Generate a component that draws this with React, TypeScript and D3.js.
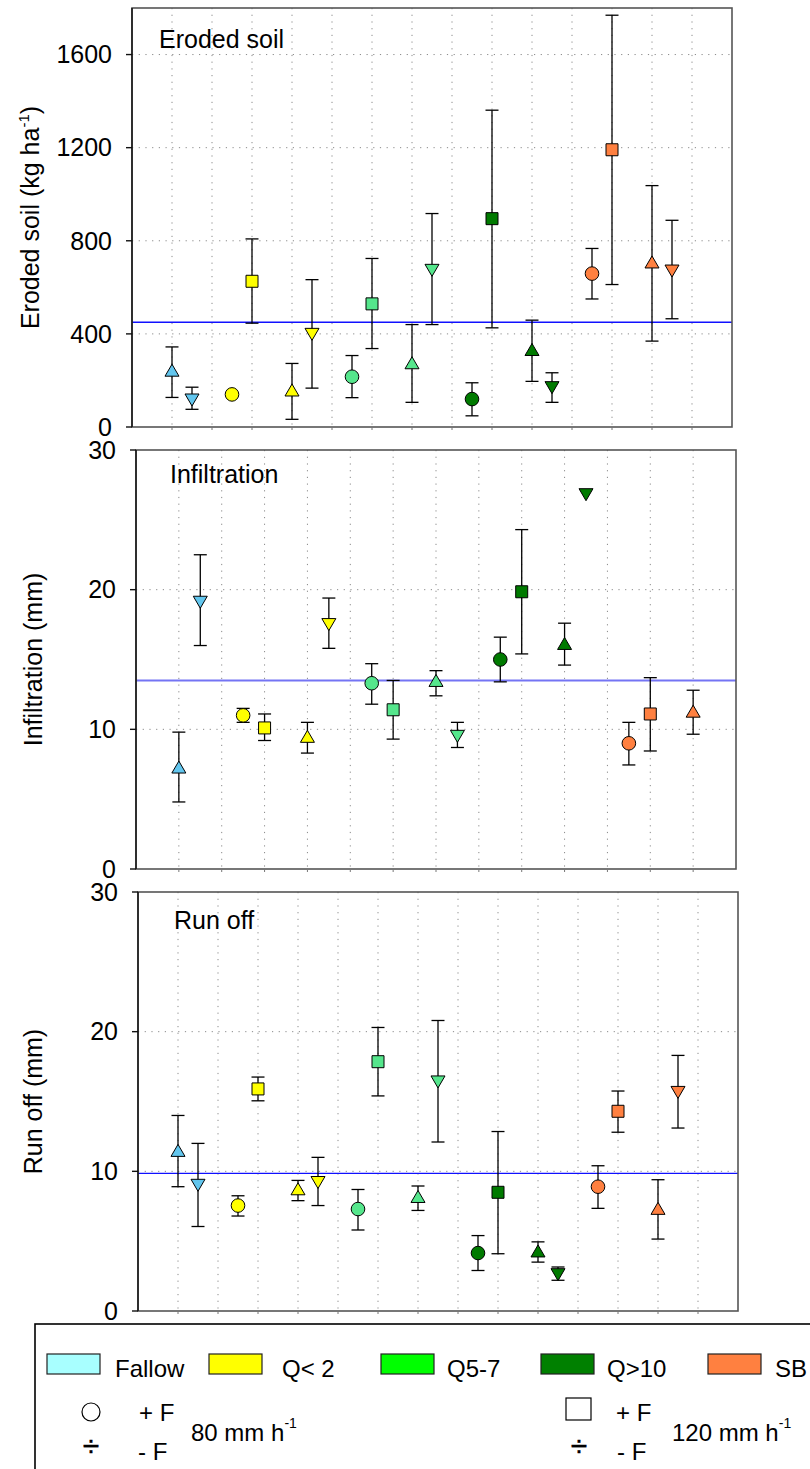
import React, { useEffect } from "react";
import * as d3 from "d3";

// ---------- data ----------
const xPos = [1, 1.5, 2.5, 3, 4, 4.5, 5.5, 6, 7, 7.5, 8.5, 9, 10, 10.5, 11.5, 12, 13, 13.5];
const treatment = ["Fallow", "Fallow", "Q<2", "Q<2", "Q<2", "Q<2", "Q5-7", "Q5-7", "Q5-7", "Q5-7", "Q>10", "Q>10", "Q>10", "Q>10", "SB", "SB", "SB", "SB"];
const symbolType = ["up", "down", "circle", "square", "up", "down", "circle", "square", "up", "down", "circle", "square", "up", "down", "circle", "square", "up", "down"];

const erodedMean = [244, 116, 140, 626, 159, 398, 216, 529, 276, 673, 120, 895, 333, 169, 659, 1191, 709, 670];
const erodedHigh = [344, 171, null, 808, 273, 633, 307, 724, 440, 917, 190, 1361, 459, 233, 767, 1769, 1037, 888];
const erodedLow = [127, 76, null, 446, 33, 167, 126, 337, 106, 440, 48, 426, 196, 106, 550, 612, 369, 465];
const erodedAvg = 450;

const infMean = [7.3, 19.1, 11.0, 10.1, 9.5, 17.5, 13.3, 11.4, 13.5, 9.5, 15.0, 19.85, 16.15, 26.8, 9.0, 11.1, 11.3, null];
const infHigh = [9.8, 22.5, 11.5, 11.1, 10.5, 19.4, 14.7, 13.5, 14.2, 10.5, 16.6, 24.3, 17.6, null, 10.5, 13.7, 12.8, null];
const infLow = [4.8, 16.0, 10.5, 9.2, 8.3, 15.8, 11.8, 9.3, 12.4, 8.7, 13.4, 15.4, 14.6, null, 7.45, 8.45, 9.65, null];
const infAvg = 13.5;

const runMean = [11.5, 9.0, 7.55, 15.9, 8.75, 9.2, 7.3, 17.85, 8.2, 16.4, 4.15, 8.5, 4.3, 2.6, 8.9, 14.3, 7.35, 15.65];
const runHigh = [14.0, 12.0, 8.25, 16.75, 9.35, 11.0, 8.7, 20.3, 8.95, 20.8, 5.4, 12.85, 4.95, 3.15, 10.4, 15.75, 9.4, 18.3];
const runLow = [8.9, 6.05, 6.8, 15.05, 7.9, 7.55, 5.8, 15.4, 7.2, 12.1, 2.9, 4.1, 3.5, 2.2, 7.35, 12.8, 5.15, 13.1];
const runAvg = 9.85;

const erodedTicks = [0, 400, 800, 1200, 1600];
const mmTicks = [0, 10, 20, 30];

const legendLabels = ["Fallow", "Q< 2", "Q5-7", "Q>10", "SB"];

// ---------- styles ----------
const FONT = "'Liberation Sans', Arial, Helvetica, sans-serif";
const markerFill: Record<string, string> = {
  Fallow: "#62c6ee",
  "Q<2": "#ffff00",
  "Q5-7": "#55e68c",
  "Q>10": "#007a00",
  SB: "#ff8040",
};
const legendFill = ["#a8ffff", "#ffff00", "#00ff00", "#008000", "#ff8040"];
const legendX = [47, 209, 381, 541, 708];
const legendTextX = [115, 282, 447, 607, 775];

type PanelCfg = {
  left: number; top: number; right: number; bottom: number;
  xMax: number; yMax: number; ticks: number[];
  mean: (number | null)[]; high: (number | null)[]; low: (number | null)[];
  avg: number; avgColor: string; avgWidth: number;
  title: string; titleX: number; titleY: number;
  yTitle: React.ReactNode; yTitleX: number;
};

function markerPath(t: string, x: number, y: number) {
  if (t === "up") return `M${x - 7},${y + 6}L${x + 7},${y + 6}L${x},${y - 6}Z`;
  if (t === "down") return `M${x - 7},${y - 6}L${x + 7},${y - 6}L${x},${y + 6}Z`;
  if (t === "square") return `M${x - 6},${y - 6}H${x + 6}V${y + 6}H${x - 6}Z`;
  const r = 6.8;
  return `M${x - r},${y}A${r},${r} 0 1,0 ${x + r},${y}A${r},${r} 0 1,0 ${x - r},${y}Z`;
}

function Panel({ c }: { c: PanelCfg }) {
  const x = d3.scaleLinear().domain([0, c.xMax]).range([c.left, c.right]);
  const y = d3.scaleLinear().domain([0, c.yMax]).range([c.bottom, c.top]);
  const vGrid = d3.range(1, c.xMax);
  const hGrid = c.ticks.filter((t) => t > 0 && y(t) > c.top + 2);
  const cy = (c.top + c.bottom) / 2;
  return (
    <g>
      {vGrid.map((g) => (
        <line key={"v" + g} x1={x(g)} x2={x(g)} y1={c.top} y2={c.bottom}
          stroke="#8a8a8a" strokeWidth={1} strokeDasharray="1.2 5.5" />
      ))}
      {hGrid.map((g) => (
        <line key={"h" + g} x1={c.left} x2={c.right} y1={y(g)} y2={y(g)}
          stroke="#8a8a8a" strokeWidth={1} strokeDasharray="1.2 5.5" />
      ))}
      <line x1={c.left} x2={c.right} y1={y(c.avg)} y2={y(c.avg)} stroke={c.avgColor} strokeWidth={c.avgWidth} />
      <rect x={c.left} y={c.top} width={c.right - c.left} height={c.bottom - c.top}
        fill="none" stroke="#555" strokeWidth={1.6} />
      <line x1={c.left} x2={c.left} y1={c.top} y2={c.bottom} stroke="#111" strokeWidth={1.4} />
      {vGrid.map((g) => (
        <line key={"xt" + g} x1={x(g)} x2={x(g)} y1={c.bottom} y2={c.bottom + 3} stroke="#777" strokeWidth={1} />
      ))}
      {c.ticks.map((t) => (
        <g key={"yt" + t}>
          <line x1={c.left - 6} x2={c.left} y1={y(t)} y2={y(t)} stroke="#111" strokeWidth={1.4} />
          <text x={c.left - 20} y={y(t)} dy="0.35em" textAnchor="end" fontSize={25} fontFamily={FONT} fill="#000">{t}</text>
        </g>
      ))}
      {c.mean.map((m, i) => {
        const hi = c.high[i];
        const lo = c.low[i];
        if (m == null || hi == null || lo == null) return null;
        const px = x(xPos[i]);
        return (
          <g key={"e" + i} stroke="#000" strokeWidth={1.3}>
            <line x1={px} x2={px} y1={y(hi)} y2={y(lo)} />
            <line x1={px - 6.5} x2={px + 6.5} y1={y(hi)} y2={y(hi)} />
            <line x1={px - 6.5} x2={px + 6.5} y1={y(lo)} y2={y(lo)} />
          </g>
        );
      })}
      {c.mean.map((m, i) => {
        if (m == null) return null;
        return (
          <path key={"m" + i} d={markerPath(symbolType[i], x(xPos[i]), y(m))}
            fill={markerFill[treatment[i]]} stroke="#000" strokeWidth={1} />
        );
      })}
      <text x={c.titleX} y={c.titleY} fontSize={25} fontFamily={FONT} fill="#000">{c.title}</text>
      <text transform={`translate(${c.yTitleX},${cy}) rotate(-90)`} textAnchor="middle" fontSize={25} fontFamily={FONT} fill="#000">
        {c.yTitle}
      </text>
    </g>
  );
}

export default function App() {
  useEffect(() => {
    document.body.style.margin = "0";
  }, []);

  const panels: PanelCfg[] = [
    {
      left: 132, top: 8, right: 732, bottom: 427, xMax: 15, yMax: 1800, ticks: erodedTicks,
      mean: erodedMean, high: erodedHigh, low: erodedLow, avg: erodedAvg, avgColor: "#1010ff", avgWidth: 1.3,
      title: "Eroded soil", titleX: 159, titleY: 48,
      yTitle: (<>Eroded soil (kg ha<tspan fontSize={15} dy={-10}>-1</tspan><tspan dy={10}>)</tspan></>),
      yTitleX: 39,
    },
    {
      left: 136, top: 450, right: 736, bottom: 869, xMax: 14, yMax: 30, ticks: mmTicks,
      mean: infMean, high: infHigh, low: infLow, avg: infAvg, avgColor: "#7474f4", avgWidth: 2,
      title: "Infiltration", titleX: 170, titleY: 483,
      yTitle: "Infiltration (mm)", yTitleX: 41.5,
    },
    {
      left: 138, top: 892, right: 738, bottom: 1311, xMax: 15, yMax: 30, ticks: mmTicks,
      mean: runMean, high: runHigh, low: runLow, avg: runAvg, avgColor: "#1010ff", avgWidth: 1.3,
      title: "Run off", titleX: 174, titleY: 929,
      yTitle: "Run off  (mm)", yTitleX: 41.5,
    },
  ];

  return (
    <svg width={810} height={1469} style={{ position: "absolute", left: 0, top: 0, background: "#fff" }}
      xmlns="http://www.w3.org/2000/svg">
      <rect x={0} y={0} width={810} height={1469} fill="#fff" />
      {panels.map((p, i) => <Panel key={i} c={p} />)}

      <rect x={35} y={1324} width={800} height={200} fill="none" stroke="#000" strokeWidth={1.6} />
      {legendLabels.map((l, i) => (
        <g key={l}>
          <rect x={legendX[i]} y={1354} width={53} height={20} fill={legendFill[i]} stroke="#222" strokeWidth={1.2} />
          <text x={legendTextX[i]} y={1377} fontSize={24} fontFamily={FONT} fill="#000">{l}</text>
        </g>
      ))}
      <circle cx={91} cy={1412} r={9} fill="#fff" stroke="#000" strokeWidth={1.2} />
      <text x={139} y={1421} fontSize={24} fontFamily={FONT}>+ F</text>
      <text x={91} y={1456} fontSize={30} fontFamily={FONT} textAnchor="middle" stroke="#000" strokeWidth={0.4}>÷</text>
      <text x={138} y={1460} fontSize={24} fontFamily={FONT}>- F</text>
      <text x={191} y={1441} fontSize={24} fontFamily={FONT}>80 mm h<tspan fontSize={14} dy={-13}>-1</tspan></text>

      <rect x={566} y={1398} width={25} height={22} fill="#fff" stroke="#000" strokeWidth={1.2} />
      <text x={616} y={1421} fontSize={24} fontFamily={FONT}>+ F</text>
      <text x={579} y={1456} fontSize={30} fontFamily={FONT} textAnchor="middle" stroke="#000" strokeWidth={0.4}>÷</text>
      <text x={617} y={1460} fontSize={24} fontFamily={FONT}>- F</text>
      <text x={672} y={1441} fontSize={24} fontFamily={FONT}>120 mm h<tspan fontSize={14} dy={-13}>-1</tspan></text>
    </svg>
  );
}
